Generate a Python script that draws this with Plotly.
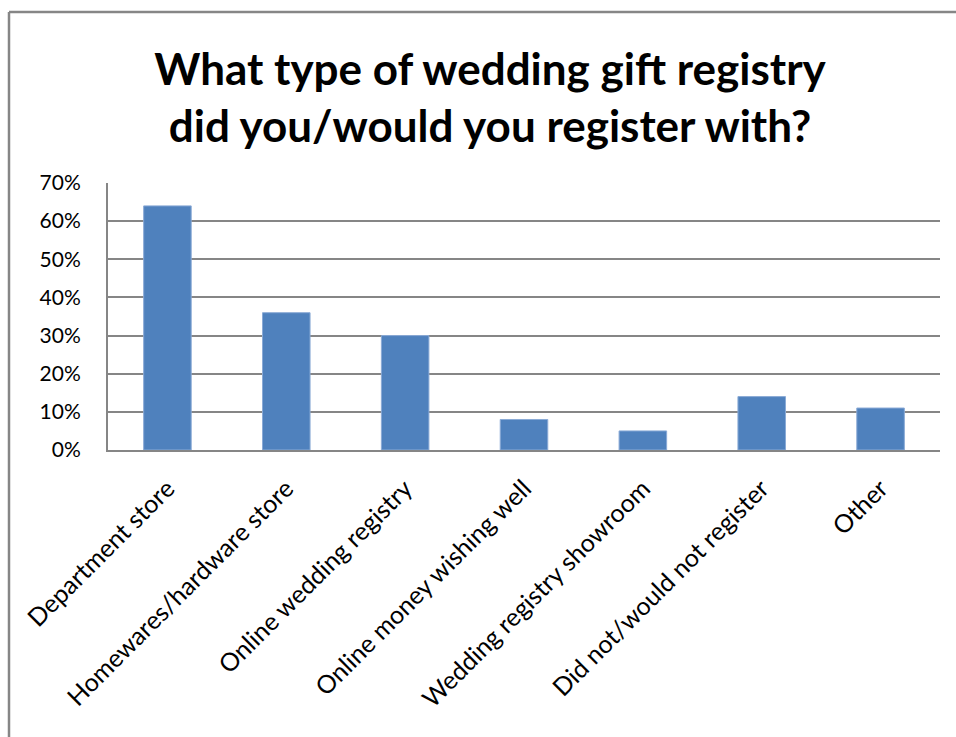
import plotly.graph_objects as go

categories = ["Department store", "Homewares/hardware store", "Online wedding registry",
              "Online money wishing well", "Wedding registry showroom",
              "Did not/would not register", "Other"]
values = [0.64, 0.36, 0.30, 0.08, 0.05, 0.14, 0.11]
tick_vals = [0, 0.1, 0.2, 0.3, 0.4, 0.5, 0.6, 0.7]
tick_text = ["0%", "10%", "20%", "30%", "40%", "50%", "60%", "70%"]

FONT = "Lato"
W, H = 956, 737
L, R, T, B = 108, 16, 183, 287
pw = W - L - R
ph = H - T - B

fig = go.Figure(go.Bar(
    x=categories, y=values,
    marker=dict(color="#4F81BD", line=dict(color="#8AAAD6", width=1)),
))

fx0 = (9 - L) / pw
fy1 = 1 + (T - 12) / ph

fig.update_layout(
    width=W, height=H,
    paper_bgcolor="white", plot_bgcolor="white",
    margin=dict(l=L, r=R, t=T, b=B),
    bargap=0.6,
    showlegend=False,
    title=dict(
        text="<b>What type of wedding gift registry<br>did you/would you register with?</b>",
        x=490/W, xanchor="center", xref="container",
        y=1 - 85/H, yanchor="middle", yref="container",
        font=dict(family=FONT, size=44, color="black"),
    ),
    font=dict(family=FONT, color="black"),
    xaxis=dict(
        tickangle=-45, tickfont=dict(size=25, family=FONT, color="black"),
        showline=True, linecolor="#868686", linewidth=2,
        ticks="", showgrid=False, ticklabelstandoff=12,
    ),
    yaxis=dict(
        range=[0, 0.7], tickvals=tick_vals, ticktext=tick_text,
        tickfont=dict(size=21, family=FONT, color="black"),
        showline=True, linecolor="#868686", linewidth=2,
        showgrid=True, gridcolor="#868686", gridwidth=1.5,
        ticks="", zeroline=False, ticklabelstandoff=21,
    ),
    shapes=[
        dict(type="line", xref="paper", yref="paper",
             x0=fx0, x1=1.3, y0=fy1, y1=fy1,
             line=dict(color="#868686", width=2.5)),
        dict(type="line", xref="paper", yref="paper",
             x0=fx0, x1=fx0, y0=-1.5, y1=fy1,
             line=dict(color="#868686", width=2.5)),
    ],
)

fig.write_html(
    "out.html",
    config={"displayModeBar": False},
    post_script="document.body.style.margin='0';document.body.style.overflow='hidden';",
)
